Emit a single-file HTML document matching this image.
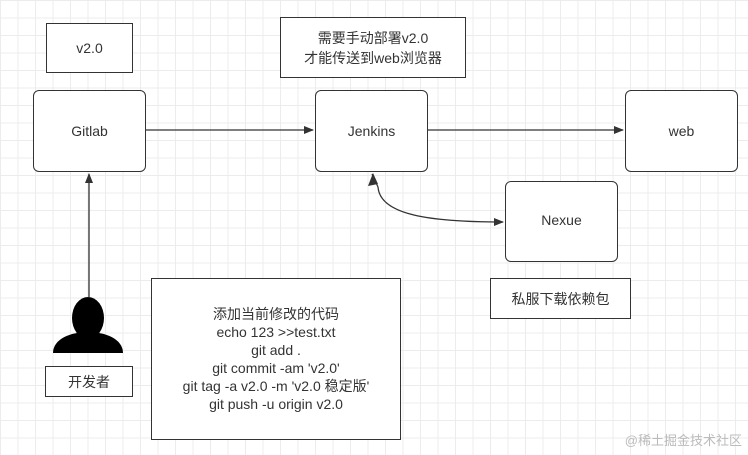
<!DOCTYPE html>
<html><head><meta charset="utf-8"><style>
body{margin:0;width:748px;height:455px;overflow:hidden;background:#fff;
background-image:linear-gradient(#ececec 1px,transparent 1px),linear-gradient(90deg,#ececec 1px,transparent 1px);background-size:17.5px 17.5px;
font-family:"Liberation Sans","Noto Sans CJK SC",sans-serif;color:#333;}
.b{position:absolute;border:1.3px solid #333;background:#fff;display:flex;align-items:center;justify-content:center;text-align:center;font-size:14px;box-sizing:border-box;}
.r{border-radius:6px;}
</style></head><body>
<div class="b" style="left:46px;top:23px;width:87px;height:50px">v2.0</div>
<div class="b" style="left:280px;top:17px;width:186px;height:61px;line-height:20px">需要手动部署v2.0<br>才能传送到web浏览器</div>
<div class="b r" style="left:33px;top:90px;width:113px;height:82px">Gitlab</div>
<div class="b r" style="left:315px;top:90px;width:113px;height:82px">Jenkins</div>
<div class="b r" style="left:625px;top:90px;width:113px;height:82px">web</div>
<div class="b r" style="left:505px;top:181px;width:113px;height:81px;align-items:flex-start;padding-top:30px">Nexue</div>
<div class="b" style="left:490px;top:278px;width:141px;height:41px">私服下载依赖包</div>
<div class="b" style="left:151px;top:278px;width:250px;height:162px;line-height:18px">添加当前修改的代码<br>echo 123 &gt;&gt;test.txt<br>git add .<br>git commit -am 'v2.0'<br>git tag -a v2.0 -m 'v2.0 稳定版'<br>git push -u origin v2.0</div>
<div class="b" style="left:45px;top:366px;width:88px;height:31px">开发者</div>
<svg width="748" height="455" style="position:absolute;left:0;top:0">
<defs><marker id="a" markerWidth="10" markerHeight="8" refX="9" refY="4" orient="auto" markerUnits="userSpaceOnUse"><path d="M0,0L10,4L0,8Z" fill="#333"/></marker></defs>
<g stroke="#333" stroke-width="1.3" fill="none">
<line x1="146" y1="130" x2="313" y2="130" marker-end="url(#a)"/>
<line x1="428" y1="130" x2="623" y2="130" marker-end="url(#a)"/>
<line x1="89" y1="297" x2="89" y2="174" marker-end="url(#a)"/>
<path d="M378,187 C380,215 430,222 503,222" marker-end="url(#a)"/>
<path d="M378,187 L372,174" />
</g>
<path d="M373,173 L368,186 L378,184Z" fill="#333"/>
<ellipse cx="88" cy="318" rx="16" ry="21" fill="#000"/>
<path d="M53,353 C53,325 123,325 123,353Z" fill="#000"/>
<text x="742" y="445" text-anchor="end" font-size="13" fill="#bbb" font-family="Liberation Sans,Noto Sans CJK SC,sans-serif">@稀土掘金技术社区</text>
</svg>
</body></html>
